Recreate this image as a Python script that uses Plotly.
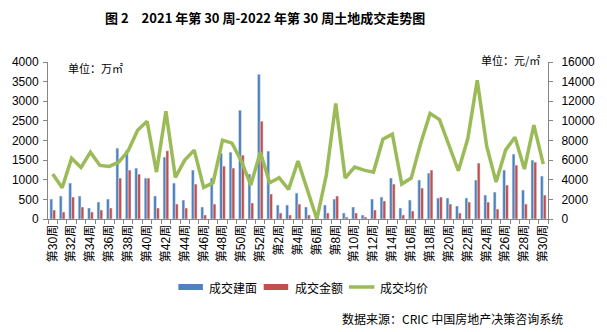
import plotly.graph_objects as go

weeks_2021 = [f"第{w}周" for w in range(30, 53)]
weeks_2022 = [f"第{w}周" for w in range(1, 31)]
weeks = weeks_2021 + weeks_2022

area = [508, 585, 915, 585, 280, 432, 508, 1805, 1754, 1297, 1042, 585, 1576,
        915, 483, 1246, 305, 1042, 1678, 1703, 2771, 1144, 3686, 1729, 356, 356,
        661, 305, 0, 356, 508, 153, 305, 102, 508, 559, 1042, 280, 483,
        992, 1169, 534, 534, 331, 534, 992, 610, 686, 1246, 1653, 737, 1500, 1093]
amount = [229, 178, 559, 305, 178, 229, 280, 1042, 1246, 1144, 1042, 280, 1737,
          381, 280, 890, 102, 381, 1347, 1297, 1627, 407, 2492, 636, 153, 102,
          381, 102, 0, 153, 585, 51, 153, 51, 229, 458, 890, 102, 203,
          788, 1246, 559, 381, 153, 432, 1424, 432, 254, 864, 1373, 381, 1449, 610]
price = [4576, 3186, 6203, 5254, 6813, 5458, 5356, 5797, 6949, 9051, 9966, 4780, 10983,
         4237, 6000, 7017, 3220, 3695, 8034, 7729, 5898, 3458, 6813, 3695, 4203, 3017,
         5898, 2949, 0, 4475, 11763, 4169, 5288, 4983, 4780, 8136, 8644, 3559, 4169,
         7695, 10746, 10136, 7424, 4915, 8203, 14136, 7424, 3763, 7017, 8339, 5085, 9559, 5593]

names = ["成交建面", "成交金额", "成交均价"]
colors = ["#4F81BD", "#C0504D", "#9BBB59"]

x = list(range(len(weeks)))
tick_idx = x[::2]
tick_txt = [weeks[i] for i in tick_idx]

W, H = 607, 332
L, R, T, B = 45, 555, 62, 219

def px(v):
    return (v - L) / (R - L)

def py(v):
    return (B - v) / (B - T)

fig = go.Figure()
fig.add_trace(go.Bar(x=x, y=area, name=names[0], marker_color=colors[0], yaxis="y"))
fig.add_trace(go.Bar(x=x, y=amount, name=names[1], marker_color=colors[1], yaxis="y"))
fig.add_trace(go.Scatter(x=x, y=price, name=names[2], mode="lines",
                         line=dict(color=colors[2], width=3.5), yaxis="y2"))

font_main = "Liberation Sans, Noto Sans CJK SC, sans-serif"
axis_col = "#868686"

fig.update_layout(
    width=W, height=H,
    margin=dict(l=L, r=W - R, t=T, b=H - B, pad=0),
    paper_bgcolor="white", plot_bgcolor="white",
    showlegend=False,
    barmode="group", bargap=0.4, bargroupgap=0,
    font=dict(family=font_main, size=12, color="#000000"),
    xaxis=dict(
        range=[-0.5, len(weeks) - 0.5],
        tickmode="array", tickvals=tick_idx, ticktext=tick_txt,
        tickangle=-90, ticks="", showgrid=False, zeroline=False,
        showline=True, linecolor=axis_col, linewidth=1,
        tickfont=dict(size=12, family=font_main),
        minor=dict(tickmode="linear", tick0=-0.5, dtick=1, ticks="outside",
                   ticklen=4, tickcolor=axis_col, showgrid=False),
    ),
    yaxis=dict(
        range=[0, 4000], dtick=500, showgrid=False, zeroline=False,
        showline=True, linecolor=axis_col, linewidth=1,
        ticks="outside", ticklen=4, tickcolor=axis_col,
        tickfont=dict(size=12), ticklabelstandoff=2, tickformat="d",
    ),
    yaxis2=dict(
        range=[0, 16000], dtick=2000, overlaying="y", side="right",
        showgrid=False, zeroline=False,
        showline=True, linecolor=axis_col, linewidth=1,
        ticks="outside", ticklen=4, tickcolor=axis_col,
        tickfont=dict(size=12), ticklabelstandoff=6,
        tickformat="d", exponentformat="none",
    ),
)

ann = []
shapes = []
ann.append(dict(text="<b>图 2　2021 年第 30 周-2022 年第 30 周土地成交走势图</b>",
                x=px(266), y=py(17), xref="paper", yref="paper",
                xanchor="center", yanchor="middle", showarrow=False,
                font=dict(size=13, family="Noto Sans CJK SC, sans-serif")))
ann.append(dict(text="单位：万㎡", x=px(63), y=py(68), xref="paper", yref="paper",
                xanchor="left", yanchor="middle", showarrow=False,
                font=dict(size=11, family="Noto Sans CJK SC, sans-serif")))
ann.append(dict(text="单位：元/㎡", x=px(485), y=py(60), xref="paper", yref="paper",
                xanchor="left", yanchor="middle", showarrow=False,
                font=dict(size=11, family="Noto Sans CJK SC, sans-serif")))
ann.append(dict(text="数据来源：CRIC 中国房地产决策咨询系统", x=px(343), y=py(318),
                xref="paper", yref="paper", xanchor="left", yanchor="middle",
                showarrow=False, font=dict(size=12, family="Noto Sans CJK SC, sans-serif")))

# manual legend
leg_y = 287
leg = [(178, 203, 207), (265, 290, 295), (352, 378, 382)]
for i, (x0, x1, tx) in enumerate(leg):
    if i < 2:
        shapes.append(dict(type="rect", xref="paper", yref="paper",
                           x0=px(x0), x1=px(x1), y0=py(leg_y + 3), y1=py(leg_y - 3),
                           fillcolor=colors[i], line=dict(width=0)))
    else:
        shapes.append(dict(type="line", xref="paper", yref="paper",
                           x0=px(x0), x1=px(x1), y0=py(leg_y), y1=py(leg_y),
                           line=dict(color=colors[i], width=3.5)))
    ann.append(dict(text=names[i], x=px(tx), y=py(leg_y), xref="paper", yref="paper",
                    xanchor="left", yanchor="middle", showarrow=False,
                    font=dict(size=12, family="Noto Sans CJK SC, sans-serif")))

fig.update_layout(annotations=ann, shapes=shapes)
fig.write_html("out.html")
